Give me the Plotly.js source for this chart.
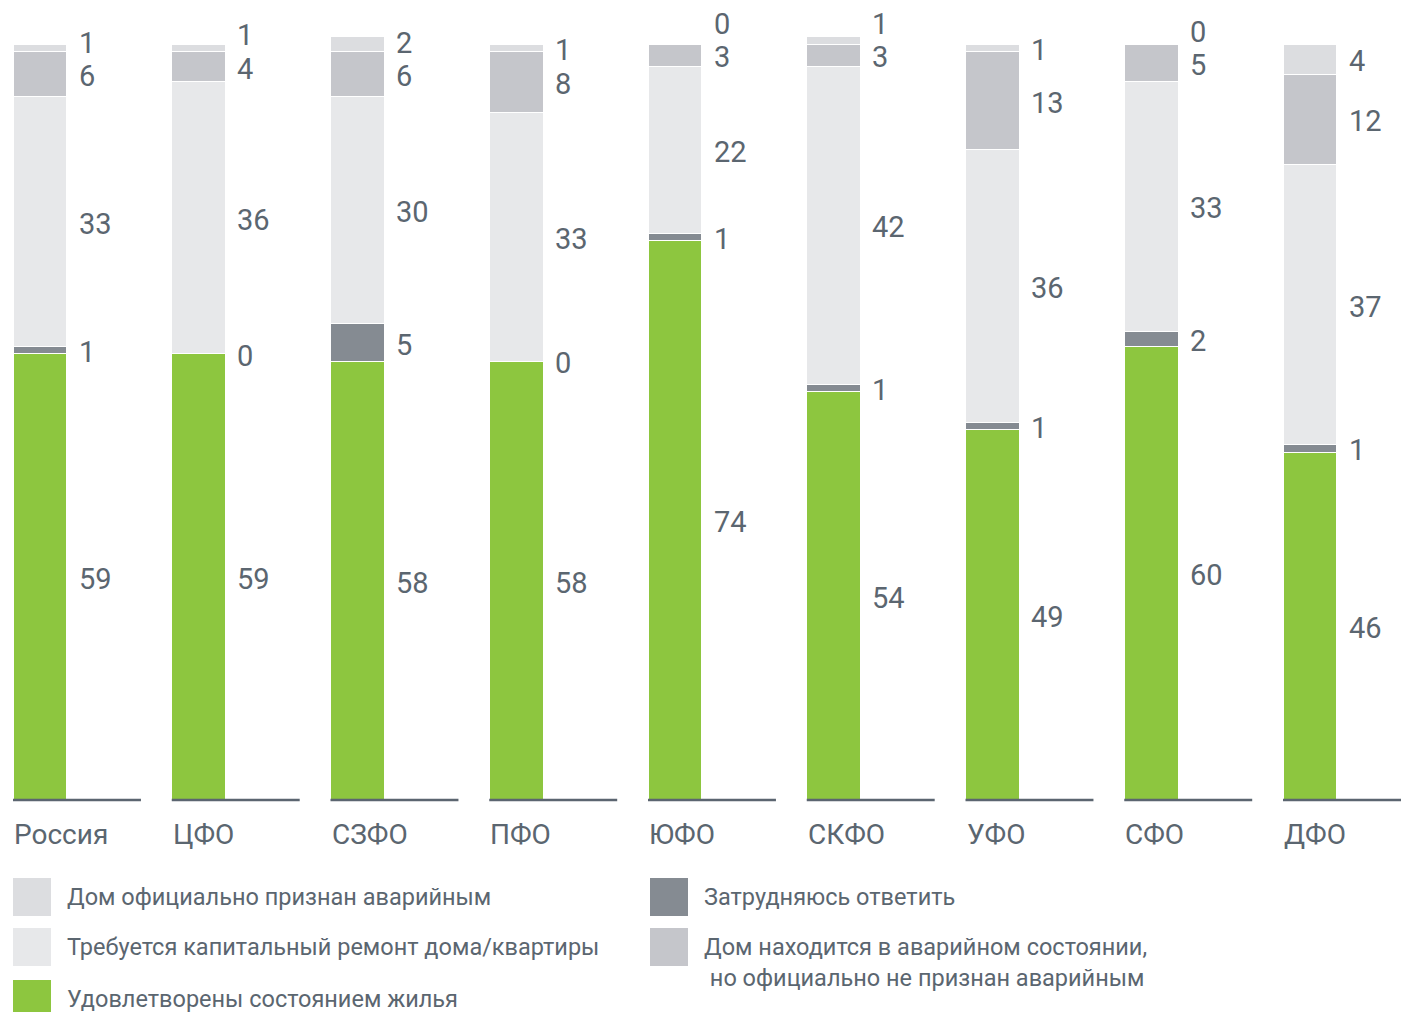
<!DOCTYPE html>
<html><head><meta charset="utf-8">
<script src="https://cdn.plot.ly/plotly-3.0.1.min.js"></script>
<style>html,body{margin:0;padding:0;background:#fff;}#chart{width:1401px;height:1012px;}</style>
</head><body><div id="chart"></div>
<script>
const regions = ["Россия","ЦФО","СЗФО","ПФО","ЮФО","СКФО","УФО","СФО","ДФО"];
const satisfied   = [59,59,58,58,74,54,49,60,46];
const hardToSay   = [1,0,5,0,1,1,1,2,1];
const needRepair  = [33,36,30,33,22,42,36,33,37];
const emergencyNotOfficial = [6,4,6,8,3,3,13,5,12];
const officialEmergency    = [1,1,2,1,0,1,1,0,4];

const seriesNames = [
  "Удовлетворены состоянием жилья",
  "Затрудняюсь ответить",
  "Требуется капитальный ремонт дома/квартиры",
  "Дом находится в аварийном состоянии,<br> но официально не признан аварийным",
  "Дом официально признан аварийным"
];
const seriesData = [satisfied, hardToSay, needRepair, emergencyNotOfficial, officialEmergency];
const colors = ["#8dc63f","#858b92","#e7e8ea","#c5c6cb","#dcdde0"];
const textColor = "#5b6670";
const font = "Roboto, 'Open Sans', sans-serif";

const xs = regions.map((_, i) => i);
const barW = 0.34;

const traces = seriesData.map((vals, k) => ({
  type: "bar", x: xs, y: vals, name: seriesNames[k],
  width: barW, offset: 0,
  marker: {color: colors[k], line: {color: "#ffffff", width: 1}},
  hoverinfo: "y", showlegend: false
}));

const annotations = [];
const minGap = 4.4;
regions.forEach((r, i) => {
  let base = 0, prev = -100;
  seriesData.forEach((vals, k) => {
    const v = vals[i];
    let c = base + v / 2;
    let p = Math.max(c, prev + minGap);
    prev = p;
    base += v;
    annotations.push({
      x: i + barW + 0.06, y: p - 0.25, xref: "x", yref: "y",
      text: String(v), showarrow: false, xanchor: "left", yanchor: "middle",
      font: {family: font, size: 29, color: textColor}
    });
  });
  annotations.push({
    x: i - 0.005, y: -4.5, xref: "x", yref: "y", text: r, showarrow: false,
    xanchor: "left", yanchor: "middle",
    font: {family: font, size: 28, color: textColor}
  });
});

const shapes = regions.map((_, i) => ({
  type: "line", xref: "x", yref: "y", x0: i, x1: i + 0.806, y0: 0, y1: 0,
  line: {color: "#5b6570", width: 2.5}
}));

// custom legend (paper coords, page is 1401x1012)
const W = 1401, H = 1012;
const legendItems = [
  {k: 4, x: 13, y: 878},
  {k: 2, x: 13, y: 928},
  {k: 0, x: 13, y: 980},
  {k: 1, x: 650, y: 878},
  {k: 3, x: 650, y: 928}
];
legendItems.forEach(it => {
  shapes.push({
    type: "rect", xref: "paper", yref: "paper",
    x0: it.x / W, x1: (it.x + 38) / W, y0: 1 - it.y / H, y1: 1 - (it.y + 38) / H,
    fillcolor: colors[it.k], line: {width: 0}
  });
  annotations.push({
    xref: "paper", yref: "paper", x: (it.x + 52) / W, y: 1 - (it.y + 3) / H,
    xanchor: "left", yanchor: "top", align: "left", showarrow: false,
    text: seriesNames[it.k],
    font: {family: font, size: 23.5, color: textColor}
  });
});

const layout = {
  width: W, height: H, margin: {l: 0, r: 0, t: 0, b: 0},
  paper_bgcolor: "#fff", plot_bgcolor: "#fff",
  barmode: "stack", bargap: 0,
  xaxis: {range: [-13 / 158.75, (1401 - 13) / 158.75], showgrid: false, zeroline: false, showticklabels: false, fixedrange: true},
  yaxis: {range: [-28.04, 105.82], showgrid: false, zeroline: false, showticklabels: false, fixedrange: true},
  annotations: annotations, shapes: shapes, showlegend: false
};
Plotly.newPlot("chart", traces, layout, {displayModeBar: false, staticPlot: true});
</script></body></html>
